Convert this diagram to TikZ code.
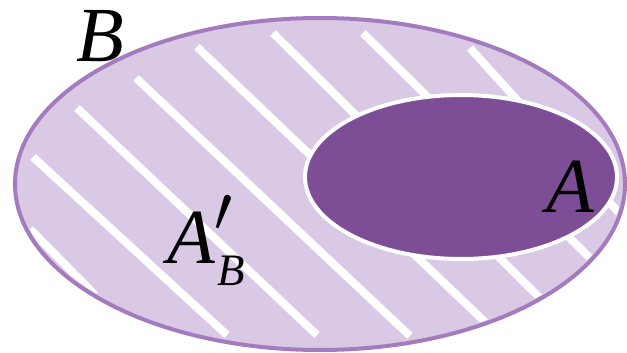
\documentclass[tikz,border=0pt]{standalone}
\usepackage{fontspec}
\setmainfont{Liberation Serif}
\definecolor{lightp}{HTML}{D9C9E5}
\definecolor{darkp}{HTML}{7D4E96}
\definecolor{bordp}{HTML}{A47BBE}
\begin{document}
\begin{tikzpicture}[x=1pt,y=-1pt,
  stripe/.style={white,line width=8pt},
  lbl/.style={inner sep=0pt,font=\fontsize{78}{80}\selectfont\itshape},
  sub/.style={inner sep=0pt,font=\fontsize{45}{46}\selectfont\itshape}]
\useasboundingbox (0,0) rectangle (627,353);
\fill[lightp] (320,184) ellipse [x radius=305, y radius=166];
\begin{scope}
  \clip (320,184) ellipse [x radius=302, y radius=163];
  \draw[stripe] (30,229) -- (95,295);
  \draw[stripe] (33,157) -- (227,335);
  \draw[stripe] (77,108) -- (317,335);
  \draw[stripe] (136,78) -- (410,336);
  \draw[stripe] (197,47) -- (485,322);
  \draw[stripe] (273,33) -- (545,303);
  \draw[stripe] (363,33) -- (592,260);
  \draw[stripe] (470,48) -- (630,225);
\end{scope}
\draw[bordp,line width=4pt] (320,184) ellipse [x radius=305, y radius=166];
\fill[darkp,draw=white,line width=4pt] (461,177) ellipse [x radius=156, y radius=82];
\node[lbl] (lB) at (100,36) {B};
\node[lbl] (lA) at (570,187) {A};
\node[lbl] (lAc) at (191,238) {A};
\node[inner sep=0pt] (lpr) at (223,213) {\resizebox{!}{36pt}{$\prime$}};
\node[sub] (lsub) at (231,271) {B};
\end{tikzpicture}
\end{document}
